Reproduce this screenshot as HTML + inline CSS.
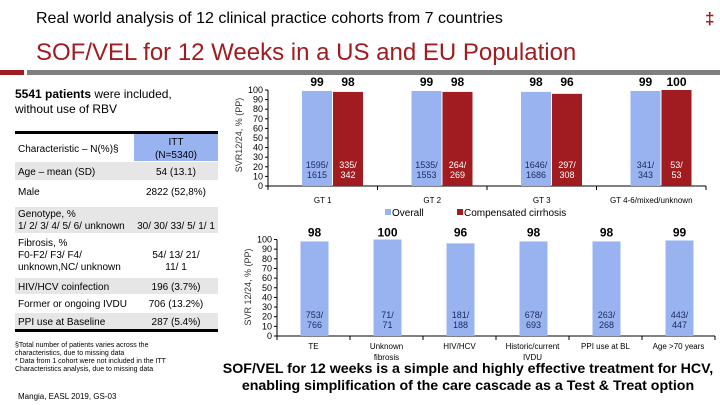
<!DOCTYPE html>
<html><head><meta charset="utf-8"><style>
body{margin:0;width:720px;height:405px;overflow:hidden;background:#fff;font-family:"Liberation Sans",sans-serif}
svg{position:absolute;left:0;top:0}
text{font-family:"Liberation Sans",sans-serif}
</style></head><body>
<svg id="s" width="720" height="405" viewBox="0 0 720 405">
<text x="36" y="23" font-size="16" fill="#000">Real world analysis of 12 clinical practice cohorts from 7 countries</text>
<text x="705" y="24" font-size="17" fill="#a01c20" font-weight="bold">‡</text>
<text x="36" y="60" font-size="24" fill="#a01c20">SOF/VEL for 12 Weeks in a US and EU Population</text>
<rect x="0" y="70" width="24" height="5" fill="#a01c20"/>
<rect x="27" y="70" width="693" height="5" fill="#7f7f7f"/>

<g font-size="12">
<text x="15" y="98"><tspan font-weight="bold">5541 patients</tspan> were included,</text>
<text x="15" y="113">without use of RBV</text>
</g>
<g font-size="10">
<rect x="15" y="131" width="203" height="3" fill="#000"/>
<rect x="134" y="134" width="84" height="27" fill="#99b3f0"/>
<text x="18" y="152">Characteristic – N(%)§</text>
<text x="176" y="145" text-anchor="middle">ITT</text>
<text x="176" y="158" text-anchor="middle">(N=5340)</text>
<rect x="15" y="162" width="203" height="18" fill="#e6e6e6"/>
<text x="18" y="175">Age – mean (SD)</text><text x="176" y="175" text-anchor="middle">54 (13.1)</text>
<text x="18" y="195">Male</text><text x="176" y="195" text-anchor="middle">2822 (52,8%)</text>
<rect x="15" y="207" width="203" height="26" fill="#e6e6e6"/>
<text x="18" y="217">Genotype, %</text>
<text x="18" y="229">1/ 2/ 3/ 4/ 5/ 6/ unknown</text><text x="176" y="229" text-anchor="middle">30/ 30/ 33/ 5/ 1/ 1</text>
<text x="18" y="246">Fibrosis, %</text>
<text x="18" y="258">F0-F2/ F3/ F4/</text><text x="176" y="258" text-anchor="middle">54/ 13/ 21/</text>
<text x="18" y="270">unknown,NC/ unknown</text><text x="176" y="270" text-anchor="middle">11/ 1</text>
<rect x="15" y="278" width="203" height="16" fill="#e6e6e6"/>
<text x="18" y="290">HIV/HCV coinfection</text><text x="176" y="290" text-anchor="middle">196 (3.7%)</text>
<text x="18" y="307">Former or ongoing IVDU</text><text x="176" y="307" text-anchor="middle">706 (13.2%)</text>
<rect x="15" y="313" width="203" height="16" fill="#e6e6e6"/>
<text x="18" y="325">PPI use at Baseline</text><text x="176" y="325" text-anchor="middle">287 (5.4%)</text>
<rect x="15" y="329" width="203" height="3" fill="#000"/>
</g>
<g font-size="7">
<text x="15" y="347">§Total number of patients varies across the</text>
<text x="15" y="355">characteristics, due to missing data</text>
<text x="15" y="363">* Data from 1 cohort were not included in the ITT</text>
<text x="15" y="371">Characteristics analysis, due to missing data</text>
<text x="18" y="399" font-size="8">Mangia, EASL 2019, GS-03</text>
</g>
<g font-size="14.2" font-weight="bold" text-anchor="middle">
<text x="468" y="373">SOF/VEL for 12 weeks is a simple and highly effective treatment for HCV,</text>
<text x="468" y="390">enabling simplification of the care cascade as a Test &amp; Treat option</text>
</g>
<g id="c1"></g>
<g id="c2"></g>
<g font-size="10">
<rect x="385" y="209" width="6" height="6" fill="#99b3f0"/><text x="392" y="216">Overall</text>
<rect x="457" y="209" width="6" height="6" fill="#a01c20"/><text x="464" y="216">Compensated cirrhosis</text>
</g>
</svg>
<script>
const gtCats=["GT 1","GT 2","GT 3","GT 4-6/mixed/unknown"];
const gtOverall=[99,99,98,99];
const gtCirr=[98,98,96,100];
const gtOverallN=[["1595/","1615"],["1535/","1553"],["1646/","1686"],["341/","343"]];
const gtCirrN=[["335/","342"],["264/","269"],["297/","308"],["53/","53"]];
const subCats=[["TE"],["Unknown","fibrosis"],["HIV/HCV"],["Historic/current","IVDU"],["PPI use at BL"],["Age >70 years"]];
const subVals=[98,100,96,98,98,99];
const subN=[["753/","766"],["71/","71"],["181/","188"],["678/","693"],["263/","268"],["443/","447"]];
const ticks=[0,10,20,30,40,50,60,70,80,90,100];
const NS="http://www.w3.org/2000/svg";
function el(p,t,a,txt){const e=document.createElementNS(NS,t);for(const k in a)e.setAttribute(k,a[k]);if(txt!=null)e.textContent=txt;p.appendChild(e);return e;}
function axis(g,x0,x1,y0,y100,n,yTitle,ty){
  const y=v=>y0-(y0-y100)*v/100;
  el(g,'line',{x1:x0,y1:y100,x2:x0,y2:y0,stroke:'#000'});
  el(g,'line',{x1:x0,y1:y0,x2:x1,y2:y0,stroke:'#000'});
  ticks.forEach(t=>{el(g,'line',{x1:x0-3,y1:y(t),x2:x0,y2:y(t),stroke:'#000'});
    const tx=el(g,'text',{x:x0-5,y:y(t)+3,'font-size':9,'text-anchor':'end'},t);
    });
  const w=(x1-x0)/n;
  for(let i=0;i<=n;i++)el(g,'line',{x1:x0+i*w,y1:y0,x2:x0+i*w,y2:y0+4,stroke:'#000'});
  const yt=el(g,'text',{transform:`translate(${x0-26},${ty}) rotate(-90)`,'font-size':9,'text-anchor':'middle',fill:'#333'},yTitle);
  
  return {y,w};
}
(function(){
  const g=document.getElementById('c1');
  const x0=268,x1=706,y0=186,y100=90;
  const {y,w}=axis(g,x0,x1,y0,y100,gtCats.length,'SVR12/24, % (PP)',135);
  gtCats.forEach((c,i)=>{
    const bx=x0+i*w+34,bw=30;
    const b1=el(g,'rect',{x:bx,y:y(gtOverall[i]),width:bw,height:y0-y(gtOverall[i]),fill:'#99b3f0'});
    
    const b2=el(g,'rect',{x:bx+bw+1,y:y(gtCirr[i]),width:bw,height:y0-y(gtCirr[i]),fill:'#a01c20'});
    
    el(g,'text',{x:bx+bw/2,y:y(100)-4,'font-size':12,'font-weight':'bold','text-anchor':'middle'},gtOverall[i]);
    el(g,'text',{x:bx+bw*1.5+1,y:y(100)-4,'font-size':12,'font-weight':'bold','text-anchor':'middle'},gtCirr[i]);
    gtOverallN[i].forEach((s,k)=>el(g,'text',{x:bx+bw/2,y:y0-18+k*10,'font-size':9,'text-anchor':'middle',fill:'#1a2a5a'},s));
    gtCirrN[i].forEach((s,k)=>el(g,'text',{x:bx+bw*1.5+1,y:y0-18+k*10,'font-size':9,'text-anchor':'middle',fill:'#fff'},s));
    const l=el(g,'text',{x:x0+i*w+w/2,y:203,'font-size':8,'text-anchor':'middle'},c);
    
  });
})();
(function(){
  const g=document.getElementById('c2');
  const x0=277,x1=715,y0=336,y100=239.5;
  const {y,w}=axis(g,x0,x1,y0,y100,subCats.length,'SVR 12/24, % (PP)',287);
  subCats.forEach((c,i)=>{
    const bw=28,bx=x0+i*w+w/2-bw/2+1;
    const b=el(g,'rect',{x:bx,y:y(subVals[i]),width:bw,height:y0-y(subVals[i]),fill:'#99b3f0'});
    
    el(g,'text',{x:bx+bw/2,y:y(100)-3,'font-size':12,'font-weight':'bold','text-anchor':'middle'},subVals[i]);
    subN[i].forEach((s,k)=>el(g,'text',{x:bx+bw/2,y:y0-18+k*10,'font-size':9,'text-anchor':'middle',fill:'#1a2a5a'},s));
    c.forEach((s,k)=>{const l=el(g,'text',{x:x0+i*w+w/2,y:349+k*11,'font-size':8,'text-anchor':'middle'},s);
      });
  });
})();
</script>
</body></html>
